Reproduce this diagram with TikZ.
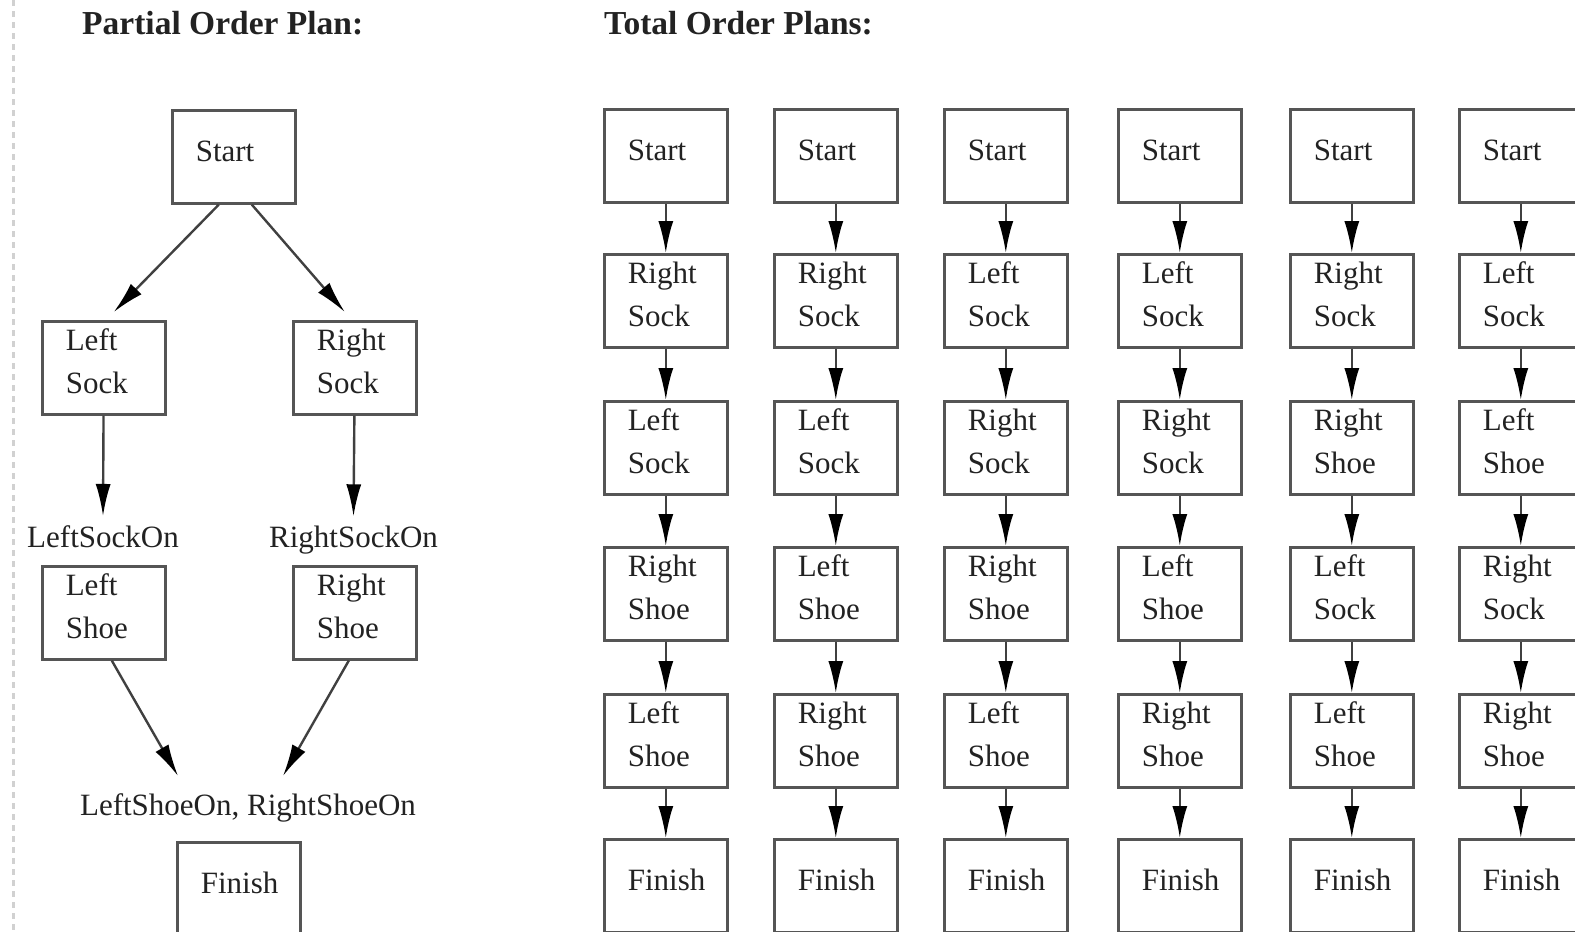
\documentclass[tikz,border=0pt]{standalone}
\usepackage{fontspec}
\setmainfont{Liberation Serif}
\usepackage{tikz}
\usetikzlibrary{arrows.meta}

\definecolor{inkgray}{HTML}{222222}
\definecolor{linegray}{HTML}{555555}
\newcommand{\boxfont}{\fontsize{31}{43}\selectfont}
\newcommand{\steplines}[1]{\raisebox{4pt}[\height][\depth]{\makebox[76pt][l]{\begin{tabular}{@{}l@{}}#1\end{tabular}}}}

\tikzset{
  stepbox/.style={draw=linegray, line width=2.6pt, anchor=north west,
    minimum width=123pt, minimum height=93pt, inner sep=0pt,
    text=inkgray, font=\boxfont},
  condlabel/.style={anchor=base, inner sep=0pt, text=inkgray, font=\boxfont},
  heading/.style={anchor=base west, inner sep=0pt, text=inkgray,
    font=\fontsize{33.5}{40}\selectfont\bfseries},
  arr/.style={draw=black!75, line width=2.4pt,
    -{Latex[length=32pt,width=15pt,color=black]}},
}

\begin{document}
\begin{tikzpicture}[x=1pt,y=-1pt]
\useasboundingbox (0,0) rectangle (1575,932);
\clip (0,0) rectangle (1575,932);
% scanned page edge
\draw[black!18, line width=3pt, dash pattern=on 6pt off 5pt] (13,0) -- (13,932);

% --- partial order plan ---
\node[heading] (ptitle) at (82,34) {Partial Order Plan:};
\node[stepbox] (pstart) at (171,109) {\steplines{Start}};
\node[stepbox] (lsock) at (41,320) {\steplines{Left\\Sock}};
\node[stepbox] (rsock) at (292,320) {\steplines{Right\\Sock}};
\node[condlabel] (lsockon) at (103,547) {LeftSockOn};
\node[condlabel] (rsockon) at (353.5,547) {RightSockOn};
\node[stepbox] (lshoe) at (41,565) {\steplines{Left\\Shoe}};
\node[stepbox] (rshoe) at (292,565) {\steplines{Right\\Shoe}};
\node[condlabel] (shoeson) at (248,815) {LeftShoeOn, RightShoeOn};
\node[stepbox] (pfinish) at (176,841) {\steplines{Finish}};
\draw[arr] ([xshift=-15pt]pstart.south) -- ([xshift=10pt,yshift=8pt]lsock.north);
\draw[arr] ([xshift=18pt]pstart.south) -- ([xshift=-10pt,yshift=8pt]rsock.north);
\draw[arr] (lsock) -- ([yshift=9pt]lsockon.north);
\draw[arr] (rsock) -- ([yshift=9pt]rsockon.north);
\draw[arr] ([xshift=8pt]lshoe.south) -- ([xshift=-70pt,yshift=17pt]shoeson.north);
\draw[arr] ([xshift=-6pt]rshoe.south) -- ([xshift=35pt,yshift=17pt]shoeson.north);

% --- total order plans ---
\node[heading] (ttitle) at (604,34) {Total Order Plans:};
\foreach \i/\x/\ta/\tb/\tc/\td in {
  1/603/Right\\Sock/Left\\Sock/Right\\Shoe/Left\\Shoe,
  2/773/Right\\Sock/Left\\Sock/Left\\Shoe/Right\\Shoe,
  3/943/Left\\Sock/Right\\Sock/Right\\Shoe/Left\\Shoe,
  4/1117/Left\\Sock/Right\\Sock/Left\\Shoe/Right\\Shoe,
  5/1289/Right\\Sock/Right\\Shoe/Left\\Sock/Left\\Shoe,
  6/1458/Left\\Sock/Left\\Shoe/Right\\Sock/Right\\Shoe}{
  \node[stepbox] (start\i) at (\x,108) {\steplines{Start}};
  \node[stepbox] (a\i) at (\x,253) {\steplines{\ta}};
  \node[stepbox] (b\i) at (\x,400) {\steplines{\tb}};
  \node[stepbox] (c\i) at (\x,546) {\steplines{\tc}};
  \node[stepbox] (d\i) at (\x,693) {\steplines{\td}};
  \node[stepbox] (finish\i) at (\x,838) {\steplines{Finish}};
  \foreach \u/\v in {start/a,a/b,b/c,c/d,d/finish}
    \draw[arr] (\u\i) -- (\v\i);
}
\end{tikzpicture}
\end{document}
